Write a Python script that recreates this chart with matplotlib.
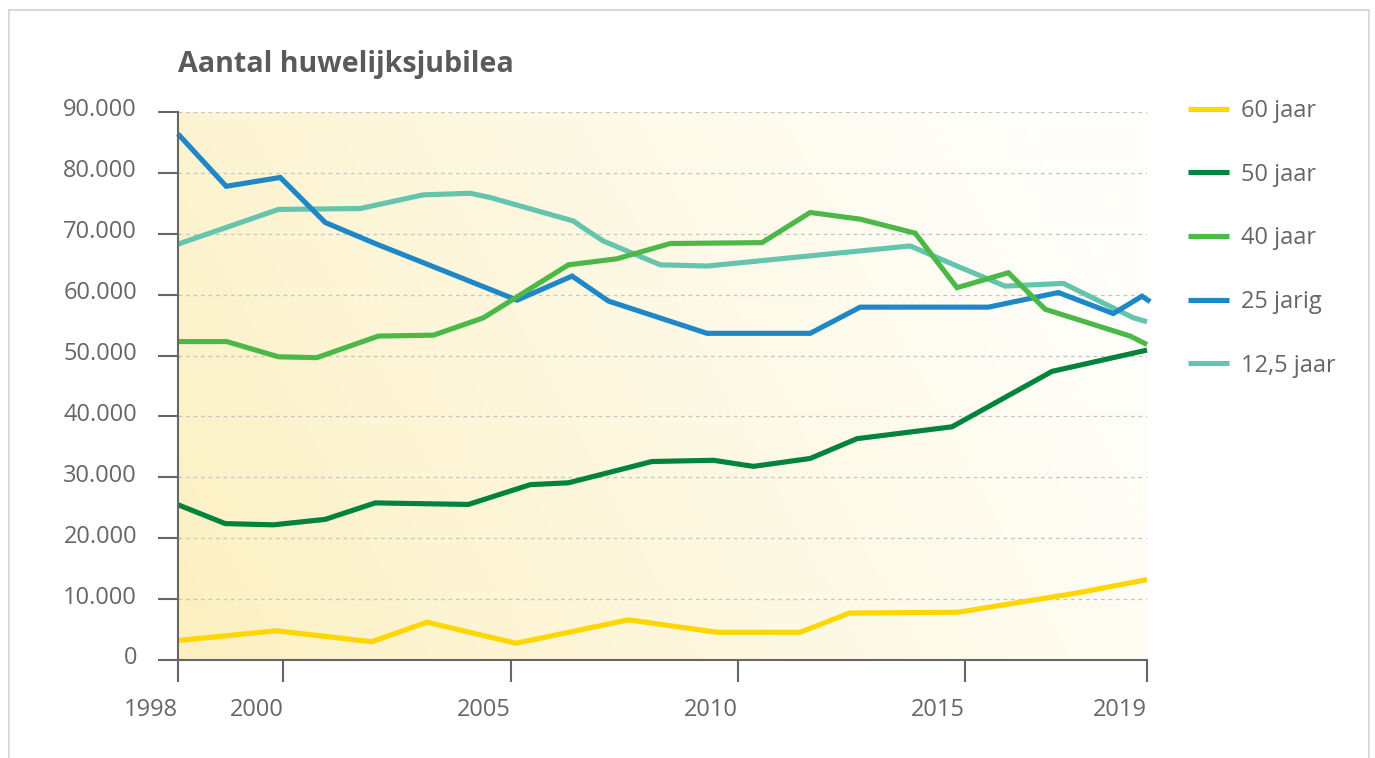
import numpy as np
import matplotlib
matplotlib.use("Agg")
import matplotlib.pyplot as plt
import matplotlib.transforms as mtransforms
from matplotlib.patches import Rectangle
from matplotlib.ticker import FuncFormatter

plt.rcParams['font.family'] = ['Open Sans', 'DejaVu Sans']

# jaartallen (posities van de knikpunten) en aantallen per jubileum
x_60 = [1997.68, 1999.85, 2001.94, 2003.16, 2005.12, 2007.59, 2009.54, 2011.37,
        2012.45, 2014.85, 2017.46, 2019.0]
y_60 = [3200, 4800, 3000, 6200, 2750, 6600, 4550, 4550, 7700, 7850, 11000, 13200]

x_50 = [1997.68, 1998.72, 1999.78, 2000.92, 2002.02, 2004.07, 2005.43, 2006.27,
        2008.11, 2009.46, 2010.34, 2011.59, 2012.62, 2014.71, 2016.91, 2019.0]
y_50 = [25500, 22400, 22200, 23100, 25800, 25550, 28800, 29100, 32600, 32800,
        31800, 33100, 36350, 38300, 47400, 50900]

x_40 = [1997.68, 1998.75, 1999.89, 2000.73, 2002.09, 2003.30, 2004.40, 2006.27,
        2007.34, 2008.51, 2010.53, 2011.59, 2012.69, 2013.90, 2014.82, 2015.95,
        2016.76, 2018.63, 2019.0]
y_40 = [52300, 52300, 49800, 49650, 53200, 53350, 56200, 64900, 65900, 68400,
        68550, 73500, 72400, 70100, 61150, 63600, 57600, 53200, 51800]

x_25 = [1997.68, 1998.74, 1999.93, 2000.92, 2002.05, 2003.23, 2005.14, 2006.35,
        2007.15, 2009.32, 2011.59, 2012.69, 2015.51, 2017.05, 2018.26, 2018.89,
        2019.07]
y_25 = [86400, 77800, 79250, 71850, 68300, 64800, 59100, 63050, 58950, 53650,
        53650, 57950, 57950, 60350, 56900, 59750, 58850]

x_125 = [1997.68, 1999.89, 2001.69, 2003.08, 2004.11, 2004.55, 2006.38, 2006.53,
         2007.04, 2008.29, 2009.32, 2013.79, 2014.82, 2015.88, 2017.16, 2018.70,
         2019.0]
y_125 = [68300, 74000, 74150, 76400, 76650, 75950, 72100, 71300, 68800, 64900,
         64700, 68000, 64700, 61400, 61850, 56200, 55550]

labels = ["60 jaar", "50 jaar", "40 jaar", "25 jarig", "12,5 jaar"]
colors = ["#ffd600", "#00833d", "#4cb848", "#1e87c8", "#64c4ae"]

tick_pos = [1997.68, 2000, 2005, 2010, 2015, 2019]
tick_lab = ["1998", "2000", "2005", "2010", "2015", "2019"]

grey = "#666666"

fig = plt.figure(figsize=(13.75, 7.58), dpi=100)
ax = fig.add_axes([178/1375, 1 - 660/758, (1147 - 178)/1375, (660 - 112)/758])

x0, x1 = 1997.68, 2019.0

# achtergrond: verloop van lichtgeel (linksonder) naar wit (rechtsboven)
W, H = 500, 300
gx, gy = np.meshgrid(np.linspace(0, 969, W), np.linspace(548, 0, H))
a = np.deg2rad(28)
u = (gx*np.cos(a) + gy*np.sin(a)) / (969*np.cos(a) + 300*np.sin(a))
u = np.clip(u, 0, 1) ** 0.9
c0 = np.array([252, 240, 192]) / 255
c1 = np.array([255, 254, 250]) / 255
img = c0[None, None, :] + (c1 - c0)[None, None, :] * u[:, :, None]
ax.imshow(img, extent=[x0, x1, 0, 90000], aspect='auto', zorder=0,
          interpolation='bilinear')

series = [(x_60, y_60), (x_50, y_50), (x_40, y_40), (x_25, y_25), (x_125, y_125)]
handles = []
for i in range(len(series) - 1, -1, -1):
    xs, ys = series[i]
    ln, = ax.plot(xs, ys, color=colors[i], lw=3.7, solid_joinstyle='miter',
                  solid_capstyle='butt', zorder=3 + (5 - i), clip_on=False)
    handles.insert(0, ln)

ax.set_xlim(x0, x1)
ax.set_ylim(0, 90000)
ax.set_yticks(range(0, 90001, 10000))
ax.yaxis.set_major_formatter(FuncFormatter(lambda v, p: f"{int(v):,}".replace(",", ".")))
ax.set_xticks(tick_pos)
ax.set_xticklabels(tick_lab)
plt.setp(ax.get_xticklabels(), ha='right')

ax.grid(axis='y', color='#c4c4c4', ls=(0, (3, 3)), lw=0.9, zorder=1)
for s in ['top', 'right']:
    ax.spines[s].set_visible(False)
for s in ['left', 'bottom']:
    ax.spines[s].set_color(grey)
    ax.spines[s].set_linewidth(1.5)
    ax.spines[s].set_zorder(10)
ax.tick_params(axis='y', length=14.5, width=1.5, color=grey, labelcolor=grey,
               labelsize=17, pad=15)
ax.tick_params(axis='x', length=16, width=1.5, color=grey, labelcolor=grey,
               labelsize=17, pad=11)

# y-labels staan iets boven de streepjes
up = mtransforms.ScaledTranslation(0, 0.045, fig.dpi_scale_trans)
for lab in ax.get_yticklabels():
    lab.set_transform(lab.get_transform() + up)

fig.text(178/1375, 1 - 72/758, "Aantal huwelijksjubilea", fontsize=20.6,
         fontweight='bold', color='#5a5a5a', va='baseline', ha='left')

leg = ax.legend(handles, labels, loc='upper left', bbox_to_anchor=(1188/1375, 1 - 99/758),
                bbox_transform=fig.transFigure, frameon=False, fontsize=17,
                handlelength=1.75, handletextpad=0.5, labelspacing=1.68, borderpad=0,
                borderaxespad=0)
for t in leg.get_texts():
    t.set_color(grey)

fig.patches.append(Rectangle((9/1375, -0.1), (1369 - 9)/1375, 1.1 - 10/758,
                             transform=fig.transFigure, fill=False,
                             edgecolor='#d3d3d3', lw=1.2))

fig.savefig("out.png", dpi=100)
